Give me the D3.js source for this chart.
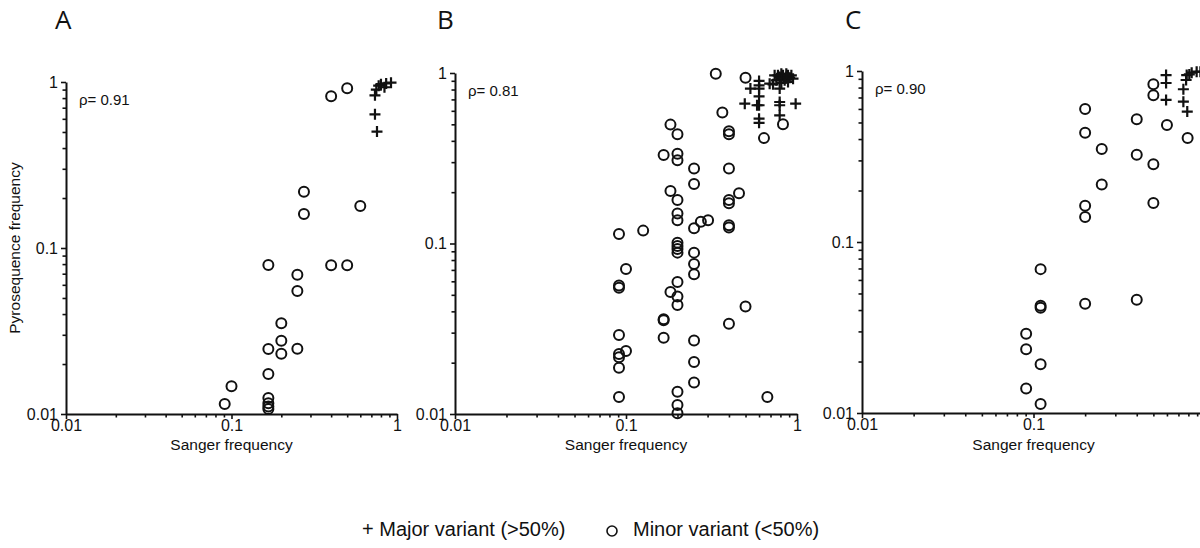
<!DOCTYPE html>
<html>
<head>
<meta charset="utf-8">
<script src="https://cdn.jsdelivr.net/npm/d3@7/dist/d3.min.js"></script>
<style>
  html, body { margin: 0; padding: 0; background: #fff; }
  svg { display: block; }
  text { font-family: "Liberation Sans", Arial, sans-serif; fill: #111; }
</style>
</head>
<body>
<svg id="chart" width="1200" height="548"></svg>
<script>
// Panel letters and correlation labels
const panelNames = ["A", "B", "C"];
const rhoLabels = ["ρ= 0.91", "ρ= 0.81", "ρ= 0.90"];

// Axis tick labels (log scale, both axes)
const majorTicks = [0.01, 0.1, 1];
const minorMultipliers = [2, 3, 4, 5, 6, 7, 8, 9];

// Panel A: [Sanger frequency, Pyrosequence frequency]
const minorA = [
  [0.091, 0.0115], [0.10, 0.0147], [0.167, 0.0125], [0.167, 0.0116], [0.167, 0.0111],
  [0.167, 0.0107], [0.167, 0.0174], [0.167, 0.0246], [0.167, 0.079], [0.2, 0.0352],
  [0.2, 0.0276], [0.2, 0.0231], [0.25, 0.0247], [0.25, 0.0551], [0.25, 0.0691],
  [0.274, 0.16], [0.274, 0.218], [0.4, 0.0787], [0.5, 0.0787], [0.4, 0.82],
  [0.5, 0.916], [0.6, 0.179]
];
const majorA = [
  [0.736, 0.831], [0.736, 0.639], [0.757, 0.503], [0.75, 0.9], [0.775, 0.95],
  [0.8, 0.97], [0.84, 0.93], [0.86, 0.98], [0.92, 0.99]
];

// Panel B
const minorB = [
  [0.091, 0.1137], [0.091, 0.0567], [0.091, 0.0551], [0.091, 0.0291], [0.091, 0.0225],
  [0.091, 0.0215], [0.091, 0.0187], [0.091, 0.0126],
  [0.1, 0.0709], [0.1, 0.0234], [0.126, 0.119],
  [0.166, 0.330], [0.166, 0.036], [0.166, 0.0355], [0.166, 0.028],
  [0.182, 0.498], [0.182, 0.203], [0.182, 0.052],
  [0.2, 0.4375], [0.2, 0.336], [0.2, 0.308], [0.2, 0.180], [0.2, 0.150], [0.2, 0.137],
  [0.2, 0.101], [0.2, 0.0967], [0.2, 0.0929], [0.2, 0.0884], [0.2, 0.0595], [0.2, 0.0489],
  [0.2, 0.0436], [0.2, 0.0135], [0.2, 0.0113], [0.2, 0.0101],
  [0.25, 0.275], [0.25, 0.223], [0.25, 0.1227], [0.25, 0.0884], [0.25, 0.0759],
  [0.25, 0.066], [0.25, 0.027], [0.25, 0.0202], [0.25, 0.0153],
  [0.274, 0.134], [0.302, 0.137], [0.335, 0.99], [0.366, 0.586],
  [0.4, 0.4555], [0.4, 0.4375], [0.4, 0.275], [0.4, 0.180], [0.4, 0.172], [0.4, 0.128],
  [0.4, 0.1243], [0.4, 0.0338], [0.458, 0.197], [0.5, 0.939], [0.5, 0.0427],
  [0.641, 0.415], [0.671, 0.0126], [0.828, 0.50]
];
const majorB = [
  [0.6, 0.898], [0.6, 0.847], [0.6, 0.81], [0.6, 0.73], [0.6, 0.647], [0.6, 0.54], [0.6, 0.51],
  [0.534, 0.81], [0.495, 0.661], [0.584, 0.647], [0.792, 0.81], [0.792, 0.676], [0.792, 0.647],
  [0.792, 0.565], [0.982, 0.661], [0.692, 0.866],
  [0.724, 0.858], [0.757, 0.906], [0.774, 0.969], [0.792, 0.947], [0.828, 0.969],
  [0.847, 0.906], [0.866, 0.947], [0.886, 0.969], [0.906, 0.939], [0.927, 0.969],
  [0.81, 0.874], [0.886, 0.886], [0.948, 0.926], [0.74, 0.969], [0.81, 0.99], [0.866, 0.99]
];

// Panel C
const minorC = [
  [0.0906, 0.0291], [0.0906, 0.0236], [0.0906, 0.0139], [0.11, 0.0694], [0.11, 0.0424],
  [0.11, 0.0413], [0.11, 0.0193], [0.11, 0.0113], [0.2, 0.6], [0.2, 0.436], [0.2, 0.163],
  [0.2, 0.14], [0.2, 0.0435], [0.25, 0.35], [0.25, 0.217], [0.4, 0.522], [0.4, 0.324],
  [0.4, 0.0459], [0.5, 0.836], [0.5, 0.721], [0.5, 0.285], [0.5, 0.169], [0.6, 0.483],
  [0.792, 0.406]
];
const majorC = [
  [0.593, 0.947], [0.593, 0.851], [0.593, 0.677], [0.748, 0.782], [0.748, 0.662],
  [0.788, 0.579], [0.782, 0.947], [0.776, 0.886], [0.836, 0.978], [0.894, 0.991],
  [0.81, 0.955], [0.94, 0.99]
];

const legendLabels = ["+ Major variant (>50%)", "Minor variant (<50%)"];
const xTitle = "Sanger frequency";
const yTitle = "Pyrosequence frequency";

const W = 1200;

// Plot frames for the three panels
const panels = [
  { name: panelNames[0], rho: rhoLabels[0], minor: minorA, major: majorA,
    x0: 66, x1: 397, yTop: 82, yBot: 414, title: [55, 29], showY: true },
  { name: panelNames[1], rho: rhoLabels[1], minor: minorB, major: majorB,
    x0: 455, x1: 797, yTop: 73, yBot: 414, title: [437, 29], showY: false },
  { name: panelNames[2], rho: rhoLabels[2], minor: minorC, major: majorC,
    x0: 862, x1: 1205, yTop: 71, yBot: 413, title: [845, 29], showY: false }
];

const svg = d3.select("#chart");

const allTicks = [];
majorTicks.slice(0, -1).forEach(t => minorMultipliers.forEach(m => allTicks.push(+(t * m).toPrecision(3))));

const plusPath = "M-5.5,0H5.5M0,-5.5V5.5";

panels.forEach(p => {
  const x = d3.scaleLog().domain([0.01, 1]).range([p.x0, p.x1]);
  const y = d3.scaleLog().domain([0.01, 1]).range([p.yBot, p.yTop]);
  const g = svg.append("g");

  // panel letter
  g.append("text").attr("x", p.title[0]).attr("y", p.title[1])
    .style("font-family", "'Open Sans', 'Liberation Sans', sans-serif")
    .style("font-size", "26px").text(p.name);

  // x axis: minor ticks then major ticks with labels (labels past the page edge are left out)
  const xMinor = g.append("g").attr("transform", `translate(0,${p.yBot})`)
    .call(d3.axisBottom(x).tickValues(allTicks).tickSize(3.5).tickSizeOuter(0).tickFormat(""));
  xMinor.select(".domain").remove();
  const xMajor = g.append("g").attr("transform", `translate(0,${p.yBot})`)
    .call(d3.axisBottom(x).tickValues(majorTicks.filter(t => x(t) < W - 4))
      .tickSize(5).tickSizeOuter(0).tickPadding(1).tickFormat(d => String(d)));
  xMajor.select(".domain").attr("stroke-width", 2).attr("stroke", "#111");

  const yMinor = g.append("g").attr("transform", `translate(${p.x0},0)`)
    .call(d3.axisLeft(y).tickValues(allTicks).tickSize(3.5).tickSizeOuter(0).tickFormat(""));
  yMinor.select(".domain").remove();
  const yMajor = g.append("g").attr("transform", `translate(${p.x0},0)`)
    .call(d3.axisLeft(y).tickValues(majorTicks).tickSize(5).tickSizeOuter(0).tickPadding(3)
      .tickFormat(d => String(d)));
  yMajor.select(".domain").attr("stroke-width", 2).attr("stroke", "#111");

  g.selectAll(".tick line").attr("stroke", "#111").attr("stroke-width", 1.6);
  g.selectAll(".tick text").style("font-size", "16px")
    .style("font-family", "'Liberation Sans', Arial, sans-serif").attr("fill", "#111");

  // axis titles
  g.append("text").attr("x", x(0.1)).attr("y", 450)
    .attr("text-anchor", "middle").style("font-size", "15.5px").text(xTitle);
  if (p.showY) {
    g.append("text").attr("transform", `translate(20,${(p.yTop + p.yBot) / 2}) rotate(-90)`)
      .attr("text-anchor", "middle").style("font-size", "15.5px").text(yTitle);
  }

  // correlation label
  g.append("text").attr("x", p.x0 + 13).attr("y", p.yTop + 23)
    .style("font-size", "15px").text(p.rho);

  // minor variants as open circles
  g.append("g").selectAll("circle").data(p.minor).join("circle")
    .attr("cx", d => x(d[0])).attr("cy", d => y(d[1])).attr("r", 5)
    .attr("fill", "none").attr("stroke", "#111").attr("stroke-width", 2);

  // major variants as plus marks
  g.append("g").selectAll("path").data(p.major).join("path")
    .attr("transform", d => `translate(${x(d[0])},${y(d[1])})`)
    .attr("d", plusPath).attr("fill", "none").attr("stroke", "#111").attr("stroke-width", 2.2);
});

// legend
const lg = svg.append("g");
lg.append("text").attr("x", 362).attr("y", 536).style("font-size", "20px").text(legendLabels[0]);
lg.append("circle").attr("cx", 612).attr("cy", 531).attr("r", 5)
  .attr("fill", "none").attr("stroke", "#111").attr("stroke-width", 1.6);
lg.append("text").attr("x", 633).attr("y", 536).style("font-size", "20px").text(legendLabels[1]);
</script>
</body>
</html>
